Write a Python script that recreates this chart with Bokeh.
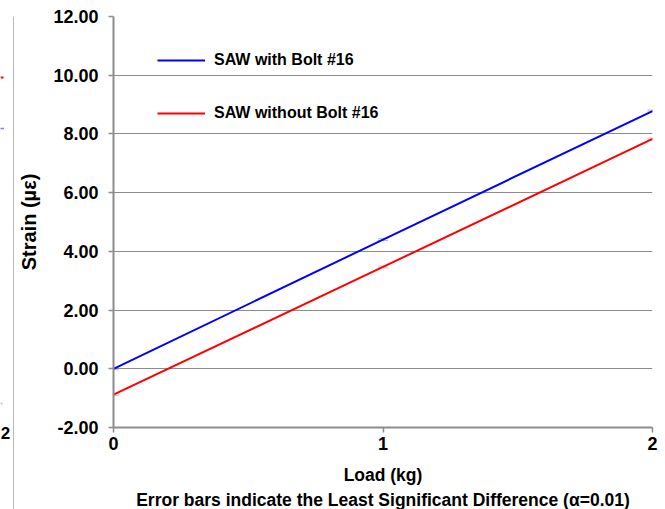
from bokeh.plotting import figure
from bokeh.models import (Range1d, FixedTicker, NumeralTickFormatter, Legend, LegendItem,
                          Title, ColumnDataSource, Whisker, TeeHead)
from bokeh.core.properties import value
from bokeh.layouts import row
from bokeh.embed import file_html
from bokeh.resources import INLINE

# ---- data ----
loads = [0, 1, 2]
with_bolt = [0.00, 4.40, 8.78]
without_bolt = [-0.88, 3.47, 7.83]
lsd_with = [0.06, 0.06, 0.06]
lsd_without = [0.06, 0.06, 0.06]
y_ticks = [-2, 0, 2, 4, 6, 8, 10, 12]
x_ticks = [0, 1, 2]
series_names = ["SAW with Bolt #16", "SAW without Bolt #16"]

FONT = "Liberation Sans"
GRAY = "#8c8c8c"

p = figure(width=651, height=509, output_backend="svg", toolbar_location=None,
           x_range=Range1d(0, 2), y_range=Range1d(-2, 12),
           min_border_left=99, min_border_right=13, min_border_top=16, min_border_bottom=80)
p.outline_line_color = None
p.background_fill_color = "white"
p.border_fill_color = "white"

src_w = ColumnDataSource(dict(x=loads, y=with_bolt,
                              up=[v + e / 2 for v, e in zip(with_bolt, lsd_with)],
                              lo=[v - e / 2 for v, e in zip(with_bolt, lsd_with)]))
src_o = ColumnDataSource(dict(x=loads, y=without_bolt,
                              up=[v + e / 2 for v, e in zip(without_bolt, lsd_without)],
                              lo=[v - e / 2 for v, e in zip(without_bolt, lsd_without)]))

r1 = p.line("x", "y", source=src_w, line_color="#0000ff", line_width=2)
r2 = p.line("x", "y", source=src_o, line_color="#ff0000", line_width=2)

for src, col in ((src_w, "#0000ff"), (src_o, "#ff0000")):
    w = Whisker(source=src, base="x", upper="up", lower="lo", dimension="height",
                line_color=col, line_alpha=0.3,
                upper_head=TeeHead(size=10, line_color=col, line_alpha=0.3),
                lower_head=TeeHead(size=10, line_color=col, line_alpha=0.3))
    p.add_layout(w)

# axes
for ax in (p.xaxis, p.yaxis):
    ax.axis_line_color = GRAY
    ax.axis_line_width = 2
    ax.major_tick_line_color = GRAY
    ax.major_tick_line_width = 1.5
    ax.major_tick_in = 0
    ax.major_tick_out = 5
    ax.minor_tick_line_color = None
    ax.major_label_text_font = FONT
    ax.major_label_text_font_style = "bold"
    ax.major_label_text_font_size = "18px"
    ax.major_label_text_color = "black"
    ax.axis_label_text_font = FONT
    ax.axis_label_text_font_style = "bold"
    ax.axis_label_text_font_size = "17.5px"
    ax.axis_label_text_color = "black"

p.yaxis.ticker = FixedTicker(ticks=y_ticks)
p.yaxis.formatter = NumeralTickFormatter(format="0.00")
p.yaxis.major_label_standoff = 10
p.yaxis.axis_label = "Strain (µε)"
p.yaxis.axis_label_text_font_size = "20px"
p.yaxis.axis_label_standoff = 10

p.xaxis.ticker = FixedTicker(ticks=x_ticks)
p.xaxis.major_label_standoff = 4
p.xaxis.axis_label = "Load (kg)"
p.xaxis.axis_label_standoff = 12

p.xgrid.visible = False
p.ygrid.ticker = FixedTicker(ticks=y_ticks)
p.ygrid.grid_line_color = GRAY
p.ygrid.grid_line_width = 1

sub = Title(text="Error bars indicate the Least Significant Difference (α=0.01)",
            align="center", offset=8, text_font=FONT, text_font_style="bold",
            text_font_size="17.5px", text_color="black", standoff=0)
p.add_layout(sub, "below")

legend = Legend(items=[LegendItem(label=series_names[0], renderers=[r1]),
                       LegendItem(label=series_names[1], renderers=[r2])],
                location=(44, 304), orientation="vertical",
                border_line_color=None, background_fill_alpha=0,
                padding=0, margin=0, spacing=33,
                glyph_width=48, glyph_height=20, label_height=20, label_standoff=9,
                label_text_font=FONT, label_text_font_style="bold",
                label_text_font_size="16px", label_text_color="black")
p.add_layout(legend)

# ---- left strip: edge of the neighbouring chart ----
left = figure(frame_width=14, frame_height=509, output_backend="svg", toolbar_location=None,
              x_range=Range1d(0, 14), y_range=Range1d(525, 16),
              x_axis_type=None, y_axis_type=None,
              min_border=0, min_border_left=0, min_border_right=0,
              min_border_top=0, min_border_bottom=0)
left.outline_line_color = None
left.xgrid.visible = False
left.ygrid.visible = False
left.segment(x0=[13.5], y0=[0], x1=[13.5], y1=[509], line_color="#a0a0a0", line_width=1.5)
left.segment(x0=[0], y0=[77], x1=[3], y1=[77], line_color="#ff0000", line_width=2)
left.segment(x0=[0], y0=[128], x1=[3], y1=[128], line_color="#0000ff", line_width=1.5, line_dash="1 1")
left.segment(x0=[0], y0=[403], x1=[2], y1=[403], line_color="#c8c8c8", line_width=2)
left.text(x=[5], y=[432], text=["2"], text_align="center", text_baseline="middle",
          text_font=value(FONT), text_font_style="bold", text_font_size=value("17px"))

layout = row(left, p)
open("out.html", "w").write(file_html(layout, INLINE))
